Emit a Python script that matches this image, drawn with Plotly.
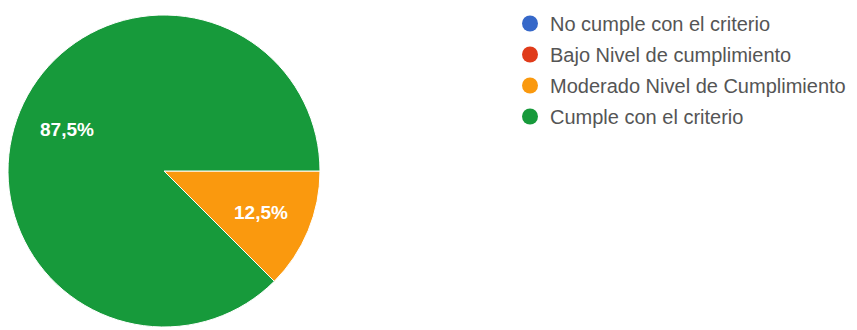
import math
import plotly.graph_objects as go

labels = ["No cumple con el criterio", "Bajo Nivel de cumplimiento",
          "Moderado Nivel de Cumplimiento", "Cumple con el criterio"]
values = [0, 0, 1, 7]
colors = ["#3668c9", "#e03b1a", "#fa990e", "#179a3b"]

W, H = 857, 330
dom_x = [8 / W, 320 / W]
dom_y = [3 / H, 315 / H]
rotation = 90  # degrees clockwise from 12 o'clock where the first slice starts

fig = go.Figure()
fig.add_trace(go.Pie(
    labels=labels, values=values, sort=False, direction="clockwise", rotation=rotation,
    marker=dict(colors=colors, line=dict(color="white", width=1)),
    textinfo="none", showlegend=False, hoverinfo="label+percent",
    domain=dict(x=dom_x, y=dom_y),
))

# slice labels placed along each slice's bisector (Google Charts style)
cx = (dom_x[0] + dom_x[1]) / 2 * W
cy = (dom_y[0] + dom_y[1]) / 2 * H
radius = min((dom_x[1] - dom_x[0]) * W, (dom_y[1] - dom_y[0]) * H) / 2
total = sum(values)
start = 0.0
for v in values:
    if v > 0:
        frac = v / total
        mid = math.radians(rotation + (start + frac / 2) * 360)
        px = cx + 0.67 * radius * math.sin(mid)
        py = cy + 0.69 * radius * math.cos(mid)
        fig.add_annotation(
            x=px / W, y=py / H, xref="paper", yref="paper", showarrow=False,
            xanchor="center", yanchor="middle",
            text=f"{frac * 100:.1f}%".replace(".", ","),
            font=dict(color="white", size=19, family="Liberation Sans, Arial", weight="bold"),
        )
    start += v / total

for lab, col in zip(labels, colors):
    fig.add_trace(go.Scatter(
        x=[None], y=[None], mode="markers", name=lab, legendgroup=lab,
        marker=dict(symbol="circle", size=16, color=col),
    ))

fig.update_layout(
    width=W, height=H, margin=dict(l=0, r=0, t=0, b=0),
    paper_bgcolor="white", plot_bgcolor="white",
    separators=",.",
    xaxis=dict(visible=False), yaxis=dict(visible=False),
    legend=dict(x=510 / W, y=1 - 4 / H, xanchor="left", yanchor="top",
                font=dict(size=20, color="#555555", family="Liberation Sans, Arial"),
                traceorder="grouped", tracegroupgap=2, itemwidth=30,
                bgcolor="rgba(0,0,0,0)"),
)
fig.write_html("out.html")
